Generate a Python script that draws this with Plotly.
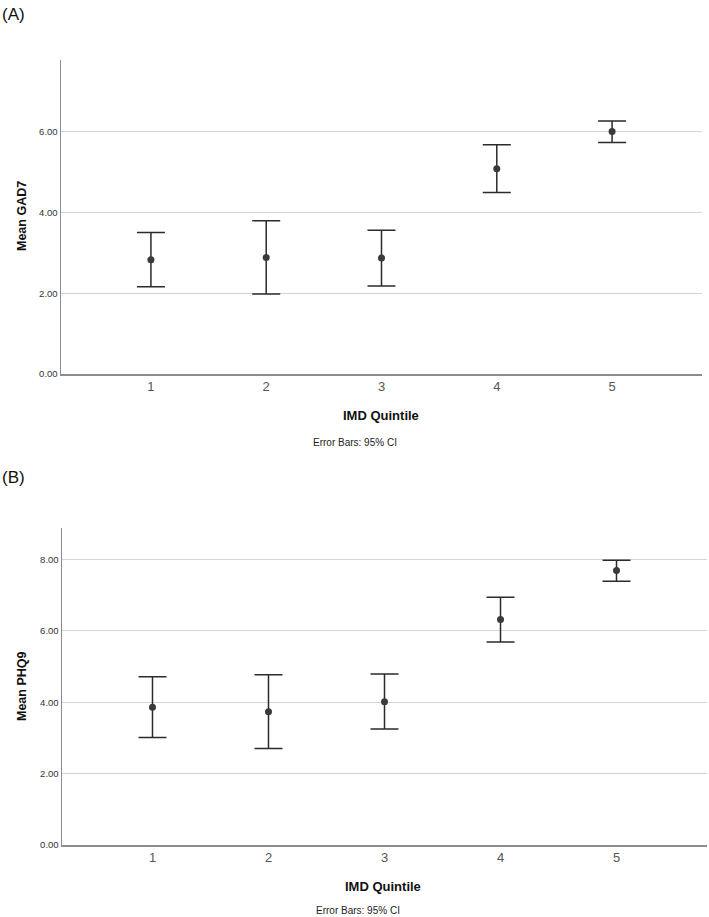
import plotly.graph_objects as go

quintiles = [1, 2, 3, 4, 5]
quintile_labels = ["1", "2", "3", "4", "5"]

gad7_mean = [2.83, 2.88, 2.87, 5.08, 6.00]
gad7_upper = [3.50, 3.79, 3.56, 5.67, 6.26]
gad7_lower = [2.16, 1.98, 2.18, 4.49, 5.73]

phq9_mean = [3.86, 3.73, 4.01, 6.32, 7.69]
phq9_upper = [4.71, 4.77, 4.79, 6.94, 7.98]
phq9_lower = [3.01, 2.70, 3.25, 5.69, 7.39]

gad7_ticks = [0, 2, 4, 6]
phq9_ticks = [0, 2, 4, 6, 8]

W, H = 709, 917
FONT = "Liberation Sans, Arial, sans-serif"

fig = go.Figure()

def add_panel(mean, upper, lower, xa, ya):
    fig.add_trace(go.Scatter(
        x=quintiles, y=mean, mode="markers",
        xaxis=xa, yaxis=ya, showlegend=False, hoverinfo="skip",
        marker=dict(size=7, color="#3a3a3a", line=dict(width=0)),
        error_y=dict(
            type="data", symmetric=False,
            array=[u - m for u, m in zip(upper, mean)],
            arrayminus=[m - l for m, l in zip(mean, lower)],
            color="#2b2b2b", thickness=1.5, width=14,
        ),
    ))

add_panel(gad7_mean, gad7_upper, gad7_lower, "x", "y")
add_panel(phq9_mean, phq9_upper, phq9_lower, "x2", "y2")

def ydom(top_px, bot_px):
    return [1 - bot_px / H, 1 - top_px / H]

axis_common = dict(
    showline=True, linecolor="#8c8c8c", linewidth=1.5,
    ticks="", zeroline=False, automargin=False,
)

fig.update_layout(
    width=W, height=H,
    margin=dict(l=0, r=0, t=0, b=0, pad=0, autoexpand=False),
    paper_bgcolor="white", plot_bgcolor="white",
    font=dict(family=FONT, color="#333333"),
    xaxis=dict(
        domain=[61 / W, 702 / W], range=[0.22, 5.78], anchor="y",
        tickvals=quintiles, ticktext=quintile_labels,
        tickfont=dict(size=13, color="#555555"),
        showgrid=False, **axis_common,
    ),
    yaxis=dict(
        domain=ydom(60, 374), range=[0, 7.77], anchor="x",
        tickvals=gad7_ticks, ticktext=[f"{v:.2f}" for v in gad7_ticks],
        tickfont=dict(size=9.5, color="#333333"),
        showgrid=True, gridcolor="#d4d4d4", gridwidth=1.2,
        **axis_common,
    ),
    xaxis2=dict(
        domain=[62 / W, 707 / W], range=[0.22, 5.78], anchor="y2",
        tickvals=quintiles, ticktext=quintile_labels,
        tickfont=dict(size=13, color="#555555"),
        showgrid=False, **axis_common,
    ),
    yaxis2=dict(
        domain=ydom(528, 845), range=[0, 8.88], anchor="x2",
        tickvals=phq9_ticks, ticktext=[f"{v:.2f}" for v in phq9_ticks],
        tickfont=dict(size=9.5, color="#333333"),
        showgrid=True, gridcolor="#d4d4d4", gridwidth=1.2,
        **axis_common,
    ),
)

def ann(text, x_px, y_px, size, bold=False, angle=0, xanchor="center", color="#222222"):
    fig.add_annotation(
        text=f"<b>{text}</b>" if bold else text,
        x=x_px / W, y=1 - y_px / H, xref="paper", yref="paper",
        showarrow=False, xanchor=xanchor, yanchor="middle",
        textangle=angle, font=dict(size=size, family=FONT, color=color),
    )

ann("(A)", 0, 14, 17, xanchor="left", color="#111111")
ann("Mean GAD7", 22, 216, 12.5, bold=True, angle=-90, color="#111111")
ann("IMD Quintile", 381, 416, 13, bold=True, color="#111111")
ann("Error Bars: 95% CI", 355, 442, 10, color="#222222")

ann("(B)", 0, 478, 17, xanchor="left", color="#111111")
ann("Mean PHQ9", 22, 686, 12.5, bold=True, angle=-90, color="#111111")
ann("IMD Quintile", 383, 886, 13, bold=True, color="#111111")
ann("Error Bars: 95% CI", 358, 910, 10, color="#222222")

fig.write_html(
    "out.html",
    config={"displayModeBar": False, "staticPlot": True},
    post_script="document.body.style.margin='0';document.body.style.padding='0';document.body.style.overflow='hidden';",
)
